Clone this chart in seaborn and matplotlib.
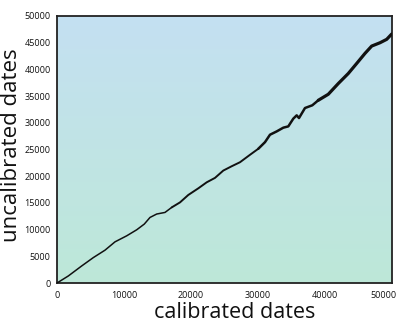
import numpy as np
import pandas as pd
import matplotlib
matplotlib.use("Agg")
import matplotlib.pyplot as plt
import matplotlib.transforms as mtransforms
import seaborn as sns
from matplotlib.colors import LinearSegmentedColormap

calibrated = [0, 1686, 3686, 5418, 7164, 8657, 10403, 11895, 13030, 13880, 14880,
              16119, 17119, 18358, 19597, 21089, 22343, 23581, 24820, 26074, 27313,
              28805, 30044, 31044, 31790, 32790, 33775, 34522, 35268, 35775, 36119,
              37014, 38104, 38999, 40492, 41984, 43477, 44731, 45969, 46969, 48208,
              49208, 49955]
uncalibrated = [0, 1316, 3196, 4756, 6148, 7708, 8836, 9964, 11036, 12276, 12916,
                13216, 14156, 15096, 16488, 17728, 18856, 19684, 21056, 21864, 22616,
                24008, 25136, 26376, 27768, 28388, 29084, 29328, 30776, 31396, 30888,
                32768, 33276, 34216, 35344, 37356, 39236, 41116, 42996, 44368, 44988,
                45628, 46624]
x_ticks = [0, 10000, 20000, 30000, 40000, 50000]
y_ticks = list(range(0, 50001, 5000))

sns.set_theme(style="white")
plt.rcParams['font.family'] = ['Open Sans', 'DejaVu Sans']

fig = plt.figure(figsize=(4.0, 3.29), dpi=100)
ax = fig.add_axes([0.1425, 0.1398, 0.8375, 0.8116])

cmap = LinearSegmentedColormap.from_list("bg", ["#bde8d8", "#c4e0f2"])
grad = np.linspace(0, 1, 256).reshape(-1, 1)
ax.imshow(grad, cmap=cmap, origin="lower", aspect="auto",
          extent=[0, 50000, 0, 50000], zorder=0)

df = pd.DataFrame({"calibrated": calibrated, "uncalibrated": uncalibrated})
# line thickens towards older dates (wider uncertainty)
segments = [(0, 13, 1.1), (12, 23, 1.4), (22, 34, 1.8), (33, len(df), 2.3)]
for a, b, w in segments:
    sns.lineplot(data=df.iloc[a:b], x="calibrated", y="uncalibrated", ax=ax,
                 color="#111111", lw=w, zorder=3, sort=False)

ax.set_xlim(0, 50000)
ax.set_ylim(0, 50000)
ax.set_xticks(x_ticks)
ax.set_yticks(y_ticks)
ax.tick_params(axis="x", direction="in", length=3, width=0.8, labelsize=6.5, pad=6, colors="#222222")
ax.tick_params(axis="y", direction="out", length=3, width=0.8, labelsize=6.5, pad=1.5, colors="#222222")
ax.tick_params(labelcolor="#111111")
last = ax.get_xticklabels()[-1]
last.set_horizontalalignment("right")
last.set_transform(last.get_transform() + mtransforms.ScaledTranslation(0.05, 0, fig.dpi_scale_trans))
for s in ax.spines.values():
    s.set_color("#222222")
    s.set_linewidth(1.3)
ax.set_xlabel("calibrated dates", fontsize=15.5, color="#111111", labelpad=1)
ax.set_ylabel("uncalibrated dates", fontsize=16, color="#111111", labelpad=1.5)
ax.xaxis.label.set_x(0.53)
ax.yaxis.label.set_y(0.515)
ax.grid(False)

fig.savefig("out.png", dpi=100)
